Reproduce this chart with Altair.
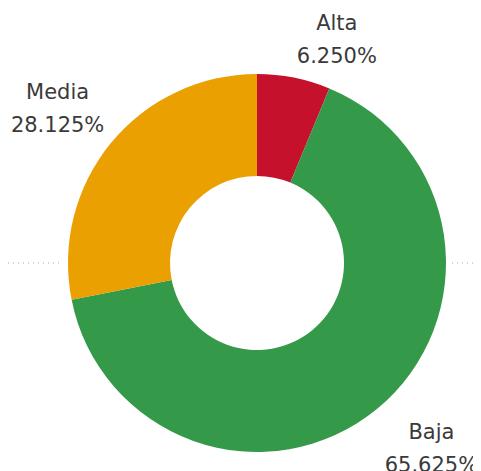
import altair as alt
import pandas as pd

categories = ["Alta", "Baja", "Media"]
shares = [0.0625, 0.65625, 0.28125]
colors = ["#c5112b", "#349a49", "#e9a000"]

df = pd.DataFrame({"cat": categories, "share": shares, "idx": list(range(len(categories)))})
df["label"] = [f"{c}\n{s*100:.3f}%" for c, s in zip(categories, shares)]

CX, CY = 249, 255

base = alt.Chart(df).encode(
    theta=alt.Theta("share:Q", stack=True),
    order=alt.Order("idx:Q"),
    x=alt.value(CX),
    y=alt.value(CY),
)

arcs = base.mark_arc(outerRadius=189, innerRadius=87, stroke=None).encode(
    color=alt.Color("cat:N", scale=alt.Scale(domain=categories, range=colors), legend=None)
)

# label nudges (pixels) to mimic the original's label placement
nudges = {"Alta": (32, 1), "Baja": (19, -19), "Media": (-10, -15)}
label_layers = []
for c in categories:
    ndx, ndy = nudges[c]
    label_layers.append(
        base.mark_text(
            radius=245, font="DejaVu Sans", fontSize=21, color="#3a3a3a",
            lineBreak="\n", lineHeight=33, align="center", baseline="middle",
            dx=ndx, dy=ndy,
        ).encode(
            text="label:N",
            opacity=alt.condition(alt.datum.cat == c, alt.value(1), alt.value(0)),
        )
    )

line_df = pd.DataFrame({"a": [0, 444], "b": [54, 465]})
rules = alt.Chart(line_df).mark_rule(color="#aaaaaa", strokeDash=[1, 4], strokeWidth=1).encode(
    x=alt.X("a:Q", scale=alt.Scale(domain=[0, 465], range=[0, 465]), axis=None),
    x2="b:Q",
    y=alt.value(CY),
)

chart = alt.layer(rules, arcs, *label_layers).properties(
    width=465, height=463, padding=0,
    autosize=alt.AutoSizeParams(type="none"),
).configure_view(stroke=None)

chart.save("out.html", embed_options={"renderer": "svg", "actions": False})
